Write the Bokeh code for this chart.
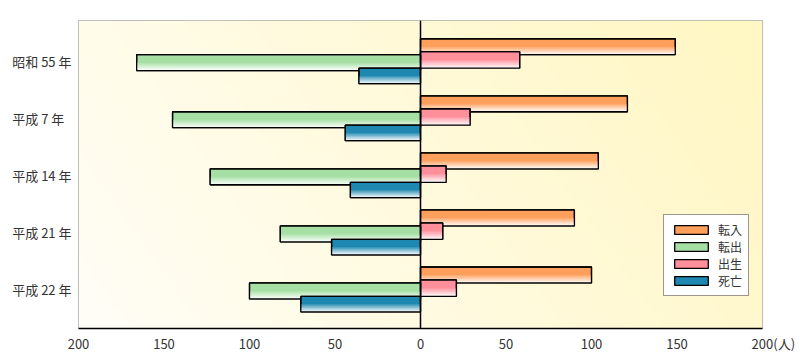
import numpy as np
from bokeh.plotting import figure
from bokeh.models import Range1d, FixedTicker, Legend, LegendItem, Span
from bokeh.embed import file_html
from bokeh.resources import INLINE

# ---- data ----
categories = ["昭和 55 年", "平成 7 年\u2007", "平成 14 年", "平成 21 年", "平成 22 年"]
series_names = ["転入", "転出", "出生", "死亡"]
inflow = [149, 121, 104, 90, 100]      # 転入
outflow = [166, 145, 123, 82, 100]     # 転出
births = [58, 29, 15, 13, 21]          # 出生
deaths = [36, 44, 41, 52, 70]          # 死亡
x_ticks = [-200, -150, -100, -50, 0, 50, 100, 150, 200]
tick_labels = ["200", "150", "100", "50", "0", "50", "100", "150",
               "\u2007\u2007\u2007200(人)"]

FONT = "Noto Sans CJK JP"
TXT = "#333333"
Y_TOP, Y_BOT = -0.713, 4.685

p = figure(width=804, height=355, output_backend="svg", toolbar_location=None,
           x_range=Range1d(-200, 200), y_range=Range1d(Y_BOT, Y_TOP),
           min_border_left=78, min_border_right=42, min_border_top=20,
           min_border_bottom=26)
p.background_fill_color = "white"
p.border_fill_color = "white"
p.outline_line_color = "#aaaaaa"
p.outline_line_width = 1

# background gradient (decoration)
nx, ny = 160, 80
u = np.linspace(0, 1, nx)[None, :]
v = np.linspace(0, 1, ny)[:, None]
t = np.clip(0.8 * u + 0.25 * (1 - v), 0, 1)
c0 = np.array([255, 254, 247], dtype=float)
c1 = np.array([255, 247, 196], dtype=float)
img = np.empty((ny, nx), dtype=np.uint32)
view = img.view(dtype=np.uint8).reshape((ny, nx, 4))
for k in range(3):
    view[:, :, k] = (c0[k] + (c1[k] - c0[k]) * t).astype(np.uint8)
view[:, :, 3] = 255
p.image_rgba(image=[img], x=-200, y=Y_TOP, dw=400, dh=Y_BOT - Y_TOP)

idx = np.arange(len(categories))


def hex2rgb(h):
    h = h.lstrip("#")
    return np.array([int(h[i:i + 2], 16) for i in (0, 2, 4)], dtype=float)


def rgb2hex(c):
    return "#%02x%02x%02x" % tuple(int(round(x)) for x in c)


PX = 57.25  # pixels per category step


def draw(vals, sign, color, top_px, bot_px):
    vals = np.asarray(vals, dtype=float)
    left = np.where(sign < 0, -vals, 0.0)
    right = np.where(sign < 0, 0.0, vals)
    top = idx + top_px / PX
    bot = idx + bot_px / PX
    h = bot - top
    main = p.hbar(y=(top + bot) / 2, height=h, left=left, right=right,
                  fill_color=color, line_color="black", line_width=1.3)
    base = hex2rgb(color)
    white = np.array([255.0, 255.0, 255.0])
    n = 7
    for k in range(n):
        s = 0.5 + 0.5 * k / n
        st = top + s * h
        mix = 0.93 * (k + 1) / n
        col = rgb2hex(base * (1 - mix) + white * mix)
        p.hbar(y=(st + bot) / 2, height=bot - st, left=left, right=right,
               fill_color=col, line_color=None)
    p.hbar(y=(top + bot) / 2, height=h, left=left, right=right,
           fill_color=None, line_color="black", line_width=1.3)
    return main


r_in = draw(inflow, 1, "#ff9f5c", -22.5, -6.5)
r_bi = draw(births, 1, "#ff8f9b", -9.5, 7.0)
r_out = draw(outflow, -1, "#a5dfa3", -6.5, 9.5)
r_de = draw(deaths, -1, "#1e88b0", 7.0, 22.5)

p.add_layout(Span(location=0, dimension="height", line_color="black", line_width=1.5))

# x axis / grid
p.ygrid.visible = False
p.xgrid.ticker = FixedTicker(ticks=x_ticks)
p.xgrid.grid_line_color = "#aaaaaa"
p.xgrid.grid_line_width = 1
ax = p.xaxis[0]
ax.ticker = FixedTicker(ticks=x_ticks)
ax.major_label_overrides = dict(zip(x_ticks, tick_labels))
ax.axis_line_color = "black"
ax.axis_line_width = 1.5
ax.major_tick_out = 0
ax.major_tick_in = 0
ax.minor_tick_out = 0
ax.minor_tick_in = 0
ax.major_label_standoff = 5
ax.major_label_text_font = FONT
ax.major_label_text_font_size = "13px"
ax.major_label_text_color = TXT

# y axis with category labels
ay = p.yaxis[0]
ay.ticker = FixedTicker(ticks=list(idx))
ay.major_label_overrides = {int(i): c for i, c in zip(idx, categories)}
ay.axis_line_color = None
ay.major_tick_out = 0
ay.major_tick_in = 0
ay.minor_tick_out = 0
ay.minor_tick_in = 0
ay.major_label_standoff = 7
ay.major_label_text_font = FONT
ay.major_label_text_font_size = "13px"
ay.major_label_text_color = TXT

legend = Legend(items=[LegendItem(label=series_names[0], renderers=[r_in]),
                       LegendItem(label=series_names[1], renderers=[r_out]),
                       LegendItem(label=series_names[2], renderers=[r_bi]),
                       LegendItem(label=series_names[3], renderers=[r_de])],
                location=(585, 32))
legend.glyph_width = 42
legend.glyph_height = 11
legend.label_standoff = 6
legend.padding = 6
legend.spacing = 0
legend.margin = 0
legend.label_height = 12
legend.label_text_font = FONT
legend.label_text_font_size = "12px"
legend.label_text_color = TXT
legend.border_line_color = "#3b2b1e"
legend.border_line_width = 1.5
legend.background_fill_color = "white"
legend.background_fill_alpha = 1
p.add_layout(legend)

open("out.html", "w").write(file_html(p, INLINE))
